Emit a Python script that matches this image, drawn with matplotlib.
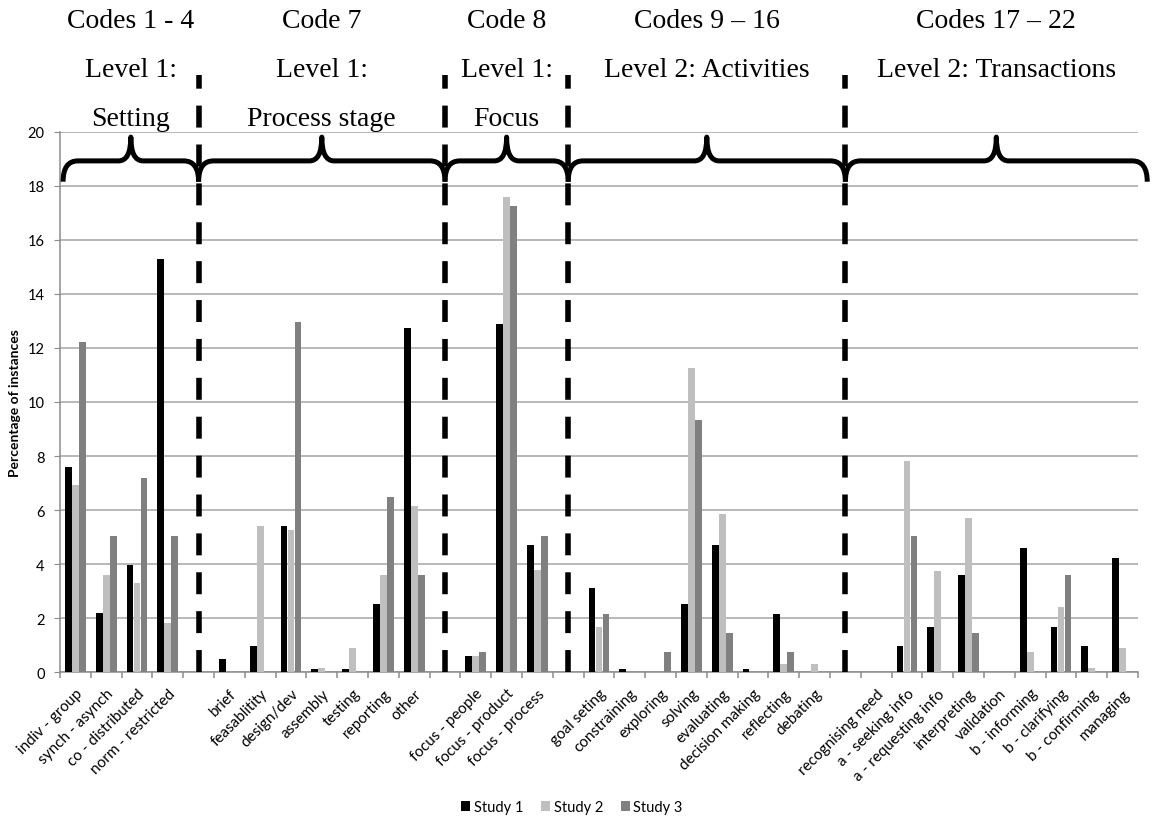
import matplotlib
matplotlib.use("Agg")
import matplotlib.pyplot as plt
import matplotlib.transforms as mtransforms
from matplotlib.path import Path
from matplotlib.patches import PathPatch
import numpy as np

plt.rcParams['lines.scale_dashes'] = False
plt.rcParams['font.family'] = ['Lato', 'DejaVu Sans']

# Category labels ("" marks a separator slot between code groups)
categories = [
    "indiv - group", "synch - asynch", "co - distributed", "norm - restricted", "",
    "brief", "feasablitity", "design/dev", "assembly", "testing", "reporting", "other", "",
    "focus - people", "focus - product", "focus - process", "",
    "goal seting", "constraining", "exploring", "solving", "evaluating",
    "decision making", "reflecting", "debating", "",
    "recognising need", "a - seeking info", "a - requesting info", "interpreting",
    "validation", "b - informing", "b - clarifying", "b - confirming", "managing",
]

# Percentage of instances per study (None = separator slot)
study1 = [7.58, 2.18, 3.98, 15.29, None,
          0.49, 0.97, 5.41, 0.12, 0.12, 2.54, 12.75, None,
          0.62, 12.89, 4.70, None,
          3.13, 0.12, 0.0, 2.54, 4.70, 0.12, 2.17, 0.0, None,
          0.0, 0.97, 1.69, 3.61, 0.0, 4.59, 1.69, 0.97, 4.22]
study2 = [6.93, 3.61, 3.30, 1.82, None,
          0.0, 5.41, 5.28, 0.16, 0.91, 3.61, 6.17, None,
          0.62, 17.60, 3.77, None,
          1.68, 0.0, 0.0, 11.27, 5.86, 0.0, 0.31, 0.31, None,
          0.0, 7.82, 3.76, 5.71, 0.0, 0.76, 2.40, 0.16, 0.90]
study3 = [12.23, 5.04, 7.19, 5.04, None,
          0.0, 0.0, 12.95, 0.0, 0.0, 6.49, 3.61, None,
          0.74, 17.26, 5.04, None,
          2.17, 0.0, 0.74, 9.35, 1.45, 0.0, 0.74, 0.0, None,
          0.0, 5.04, 0.0, 1.45, 0.0, 0.0, 3.61, 0.0, 0.0]

series_names = ["Study 1", "Study 2", "Study 3"]
series_colors = ["#000000", "#BFBFBF", "#808080"]

# Group headings, separators and brace spans (in category-slot units)
group_codes = ["Codes 1 - 4", "Code 7", "Code 8", "Codes 9 \u2013 16", "Codes 17 \u2013 22"]
group_levels = ["Level 1:", "Level 1:", "Level 1:", "Level 2: Activities", "Level 2: Transactions"]
group_names = ["Setting", "Process stage", "Focus", "", ""]
separators = [4, 12, 16, 25]
brace_spans = [(-0.4, 4), (4, 12), (12, 16), (16, 25), (25, 34.8)]

W, H = 1156, 820
fig = plt.figure(figsize=(W / 100, H / 100), dpi=100)
ax = fig.add_axes([60 / W, 1 - 673.3 / H, (1138 - 60) / W, (673.3 - 132.7) / H])

x = np.arange(len(categories))
bar_w = 0.22
offsets = [-0.225, 0.0, 0.225]
for vals, name, col, off in zip([study1, study2, study3], series_names, series_colors, offsets):
    h = np.array([np.nan if v is None else v for v in vals], dtype=float)
    ax.bar(x + off, np.nan_to_num(h), width=bar_w, color=col, linewidth=0, label=name, zorder=3)

ax.set_xlim(-0.5, len(categories) - 0.5)
ax.set_ylim(0, 20)
ax.set_yticks(np.arange(0, 21, 2))
ax.yaxis.grid(True, color="#A6A6A6", linewidth=1.1, zorder=0)
ax.set_axisbelow(True)

for s in ["top", "right"]:
    ax.spines[s].set_visible(False)
for s in ["left", "bottom"]:
    ax.spines[s].set_color("#8C8C8C")
    ax.spines[s].set_linewidth(1.1)

ax.tick_params(axis="y", length=4, color="#8C8C8C", labelsize=10.5, pad=7)
ax.set_xticks(x)
ax.set_xticklabels(categories, rotation=45, ha="right", rotation_mode="anchor", fontsize=11)
ax.tick_params(axis="x", which="major", length=0, pad=10)
ax.set_xticks(np.arange(-0.5, len(categories), 1.0), minor=True)
ax.tick_params(axis="x", which="minor", length=4, color="#8C8C8C", width=1.1)

fig.text(15 / W, 1 - 403 / H, "Percentage of instances", rotation=90, ha="center",
         va="center", fontsize=10, fontweight="bold")

# Dashed separators between code groups
for s in separators:
    ax.plot([s, s], [0, 22.1], color="black", linewidth=4.0,
            linestyle=(0, (15.8, 12.2)), clip_on=False, zorder=5, solid_capstyle="butt")

# Curly braces spanning each group
y_tip, y_h, y_peak = 18.15, 18.92, 19.80
r_end, r_mid = 0.48, 0.40
for (x0, x1) in brace_spans:
    xm = (x0 + x1) / 2
    verts = [(x0, y_tip), (x0, y_h), (x0 + r_end, y_h),
             (xm - r_mid, y_h),
             (xm, y_h), (xm, y_peak),
             (xm, y_h), (xm + r_mid, y_h),
             (x1 - r_end, y_h),
             (x1, y_h), (x1, y_tip)]
    codes = [Path.MOVETO, Path.CURVE3, Path.CURVE3,
             Path.LINETO,
             Path.CURVE3, Path.CURVE3,
             Path.CURVE3, Path.CURVE3,
             Path.LINETO,
             Path.CURVE3, Path.CURVE3]
    ax.add_patch(PathPatch(Path(verts, codes), facecolor="none", edgecolor="black",
                           linewidth=3.6, capstyle="butt", joinstyle="round",
                           clip_on=False, zorder=6))

# Group headings above the braces
trans = mtransforms.blended_transform_factory(ax.transData, fig.transFigure)
for (x0, x1), c, l, n in zip(brace_spans, group_codes, group_levels, group_names):
    xm = (x0 + x1) / 2
    for txt, ypx in [(c, 28), (l, 77), (n, 126)]:
        if txt:
            ax.text(xm, 1 - ypx / H, txt, transform=trans, ha="center", va="baseline",
                    fontsize=20, family="Liberation Serif")

fig.legend(*ax.get_legend_handles_labels(), loc="center", ncol=3, frameon=False,
           bbox_to_anchor=(572 / W, 1 - 808 / H), fontsize=10.5,
           handlelength=0.62, handleheight=0.62, handletextpad=0.25, columnspacing=1.2)

fig.savefig("out.png", dpi=100)
